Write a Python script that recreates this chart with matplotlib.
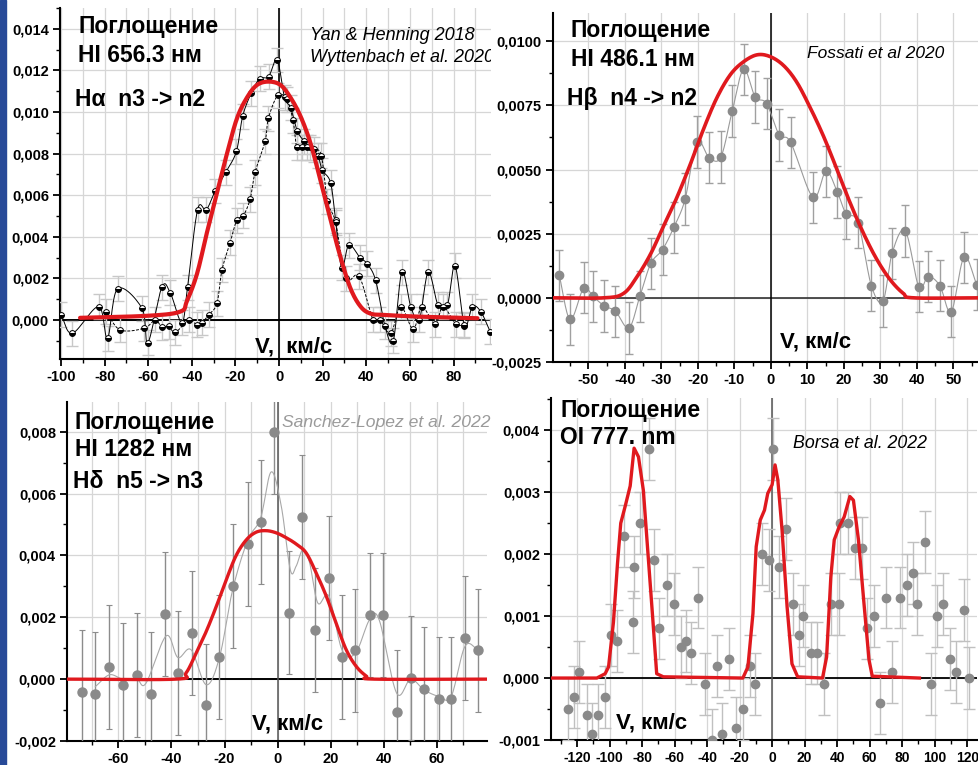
import numpy as np
import matplotlib
matplotlib.use("Agg")
import matplotlib.pyplot as plt
from matplotlib.patches import Rectangle
from matplotlib.ticker import MultipleLocator, FuncFormatter

plt.rcParams['font.family'] = ['Liberation Sans', 'DejaVu Sans']
plt.rcParams['font.weight'] = 'bold'

RED = '#e0191e'
W, H = 979, 765

# ---------------- H-alpha 656.3 nm ----------------
ha_a_v = [-100, -94.8, -82.8, -78.7, -74.1, -62.9, -60.2, -53.8, -49.9, -44.6, -42.0,
          -37.4, -33.4, -29.3, -24.5, -19.6, -16.7, -12.8, -8.9, -4.8, -0.9,
          2.5, 5.3, 8.3, 11.4, 14.0, 17.8, 19.8, 23.6, 25.9, 28.7, 32.0, 37.1, 40.4, 44.3,
          48.6, 52.4, 56.3, 60.4, 64.3, 68.4, 72.9, 77.2, 80.7, 85.0, 88.7, 92.5, 96.8]
ha_a_y = [0.00024, -0.00064, 0.00064, -0.00088, 0.0015, 0.00056, -0.0011, 0.00157, 0.0013, -0.00013, 0.00157,
          0.0053, 0.0053, 0.0062, 0.0071, 0.0081, 0.0098, 0.0109, 0.0116, 0.0117, 0.0125,
          0.0107, 0.0102, 0.0091, 0.0086, 0.0083, 0.0079, 0.0072, 0.0066, 0.0048, 0.0025, 0.0036, 0.0030, 0.0027, 0.0019,
          -0.0003, -0.0010, 0.0023, 0.00064, 0.0, 0.0023, 0.00072, 0.00072, 0.0026, -0.00027, 0.00064, 0.0004, -0.00056]
ha_b_v = [-79.3, -72.9, -61.9, -56.8, -53.8, -50.7, -47.6, -41.5, -37.7, -35.4, -32.3,
          -28.5, -26.2, -22.5, -19.4, -16.5, -13.3, -11.0, -6.4, -4.9, -0.6,
          3.5, 6.4, 8.1, 10.4, 12.7, 16.0, 19.4, 22.2, 25.9, 30.7, 36.7, 43.1, 46.3,
          51.2, 55.8, 61.5, 65.5, 71.6, 75.2, 81.0, 84.8]
ha_b_y = [0.0004, -0.00048, -0.0004, 0.0, -0.00035, -0.0003, -0.0006, 0.0, -0.00024, -0.00013, 0.00024,
          0.0008, 0.0024, 0.0037, 0.0048, 0.0050, 0.0058, 0.0071, 0.0086, 0.0097, 0.0108,
          0.0106, 0.0096, 0.0083, 0.0083, 0.0083, 0.0082, 0.0079, 0.0057, 0.0047, 0.0020, 0.0021, 0.0, 0.0,
          -0.00064, 0.00064, -0.00045, 0.00063, -0.0002, 0.00064, -0.0002, -0.00024]
ha_err = 0.0006
ha_model_v = [-91.3, -60, -45.3, -42.3, -37.7, -33.1, -28.5, -23.9, -19.3, -14.7, -10.1, -4.8,
              0.6, 5.2, 9.8, 14.4, 19.0, 23.6, 28.2, 32.8, 37.4, 42.0, 48.1, 63.4, 91.0]
ha_model_y = [0.0001, 0.0002, 0.0004, 0.0009, 0.0022, 0.0042, 0.0061, 0.0080, 0.0097, 0.0107, 0.0113, 0.01146,
              0.0113, 0.0107, 0.0098, 0.0085, 0.0067, 0.0048, 0.0030, 0.0015, 0.00064, 0.0003, 0.00024, 0.00016, 0.00008]

# ---------------- H-beta 486.1 nm ----------------
hb_v = [-58.0, -55.0, -51.3, -48.8, -45.6, -42.6, -38.9, -35.9, -32.9, -29.7, -26.6, -23.5,
        -20.3, -16.9, -13.7, -10.6, -7.5, -4.3, -1.2, 2.3, 5.4, 11.5, 15.1, 18.2, 20.6,
        23.9, 27.5, 30.7, 33.2, 36.8, 40.5, 43.1, 46.3, 49.4, 52.9, 56.4]
hb_y = [0.00088, -0.00084, 0.00039, 0.00006, -0.00032, -0.00052, -0.00117, 0.00006, 0.00134, 0.00188, 0.00275, 0.00385,
        0.00607, 0.00546, 0.00549, 0.00728, 0.0089, 0.00783, 0.00757, 0.00634, 0.00606, 0.00392, 0.00493, 0.00412, 0.00328,
        0.00293, 0.00048, -0.00012, 0.00174, 0.00261, 0.00043, 0.00083, 0.00047, -0.00054, 0.00158, 0.00052]
hb_err = 0.001
hb_model_v = [-59.5, -45.8, -40.4, -36.7, -33.0, -29.4, -25.8, -22.1, -18.4, -14.8, -11.1, -7.5, -3.8,
              -0.2, 3.5, 7.1, 10.8, 14.4, 18.1, 21.7, 25.4, 29.0, 32.7, 36.3, 39.1, 57.0]
hb_model_y = [0.0, 0.0, 0.00017, 0.00082, 0.0017, 0.0028, 0.0039, 0.0052, 0.0066, 0.0078, 0.0087, 0.0092, 0.00947,
              0.0094, 0.00905, 0.0084, 0.0074, 0.0063, 0.0050, 0.0037, 0.0025, 0.0015, 0.0007, 0.00017, 0.0, 0.0]

# ---------------- H-delta 1282 nm ----------------
hd_v = [-73.7, -68.7, -63.4, -58.2, -53.1, -47.8, -42.4, -37.4, -32.3, -27.0, -21.9, -16.9, -11.2,
        -6.4, -1.3, 4.3, 9.4, 14.3, 19.4, 24.3, 29.4, 34.7, 39.9, 44.9, 50.2, 55.3, 60.9, 65.5, 70.7, 75.7]
hd_y = [-0.00041, -0.00049, 0.00039, -0.0002, 0.00013, -0.00049, 0.0021, 0.0002, 0.0015, -0.00085, 0.00072, 0.0030, 0.00436,
        0.00508, 0.0080, 0.00215, 0.00524, 0.00158, 0.00326, 0.00072, 0.00093, 0.00208, 0.00208, -0.00106, 0.00004,
        -0.00033, -0.00065, -0.00065, 0.00133, 0.00093]
hd_err = 0.002
hd_fit_v = [-68.7, -63.4, -58.4, -53.1, -49.6, -42.0, -37.6, -32.6, -26.9, -21.9, -16.9, -11.2, -6.4, -2.4,
            1.4, 4.8, 7.0, 9.6, 12.1, 15.2, 19.4, 24.3, 29.4, 34.7, 38.4, 44.9, 50.2, 55.3, 60.9, 65.5, 70.7, 75.7]
hd_fit_y = [-0.00024, 0.00014, 0.0, 0.0, -0.00013, 0.0014, 0.0007, 0.00095, -0.00018, 0.0007, 0.0029, 0.0045, 0.0052, 0.0067,
            0.0056, 0.00354, 0.00365, 0.0042, 0.00376, 0.00246, 0.00268, 0.00095, 0.00084, 0.00192, 0.0019, -0.00045,
            0.0, -0.00035, -0.00056, -0.00056, 0.00106, 0.00095]
hd_model_v = [-79.0, -38.2, -34.5, -30.7, -26.9, -23.1, -19.4, -15.6, -11.8, -8.1, -4.3, -0.5, 3.3, 7.0, 10.8,
              14.6, 18.4, 22.1, 25.9, 29.7, 33.5, 36.6, 79.0]
hd_model_y = [0.0, 0.0, 0.0002, 0.00084, 0.00154, 0.00235, 0.0032, 0.0040, 0.0045, 0.00475, 0.0048, 0.00473, 0.00457,
              0.00437, 0.00408, 0.00343, 0.00268, 0.00181, 0.00095, 0.00041, 0.0001, 0.0, 0.0]

# ---------------- OI 777 nm ----------------
oi_v = [-125.7, -122.0, -119.0, -114.0, -110.8, -107.0, -103.0, -99.0, -95.5, -90.8, -85.7, -84.7, -81.2,
        -75.7, -72.4, -69.4, -64.5, -60.6, -55.9, -52.9, -50.0, -45.3, -41.0, -36.9, -33.9, -31.0, -26.5,
        -22.0, -18.0, -13.9, -10.8, -6.1, -2.0, 0.4, 4.5, 8.6, 12.7, 16.3, 19.2, 23.9, 27.3, 31.6, 36.1,
        41.2, 41.6, 46.9, 50.8, 55.1, 58.6, 62.7, 66.1, 69.8, 73.9, 78.6, 82.7, 86.5, 88.8, 93.9, 98.0,
        101.6, 105.1, 109.6, 113.3, 117.8, 120.8]
oi_y = [-0.0005, -0.0003, 0.0001, -0.0006, -0.0009, -0.0006, -0.0003, 0.0007, 0.0006, 0.0023, 0.0009, 0.0018, 0.0025,
        0.0037, 0.0019, 0.0008, 0.0015, 0.0012, 0.0005, 0.0006, 0.0004, 0.0013, -0.0001, -0.001, 0.0002, -0.0009, 0.0003,
        -0.0008, -0.0005, 0.0002, -0.0001, 0.0020, 0.0019, 0.0037, 0.0018, 0.0024, 0.0012, 0.0007, 0.0010, 0.0004, 0.0004,
        -0.0001, 0.0012, 0.0012, 0.0025, 0.0025, 0.0021, 0.0021, 0.0008, 0.0010, -0.0004, 0.0013, 0.0001, 0.0013, 0.0015,
        0.0017, 0.0012, 0.0022, -0.0001, 0.0010, 0.0012, 0.0003, 0.0001, 0.0011, 0.0]
oi_err = 0.0005
oi_model_v = [-135.3, -107.8, -102.7, -100.6, -97.6, -95.1, -93.1, -90.4, -87.3, -84.9, -82.2, -79.2, -76.5,
              -73.5, -71.0, -66.9, -18.0, -14.9, -11.8, -9.8, -7.3, -4.7, -2.7, 0.0, 1.8, 3.5, 6.1, 9.2, 12.2,
              15.7, 31.0, 33.5, 36.1, 38.2, 41.2, 44.3, 47.8, 50.0, 53.1, 56.5, 59.6, 61.6, 90.6]
oi_model_y = [0.0, 0.0, 0.00007, 0.00018, 0.0009, 0.00185, 0.0025, 0.00277, 0.0031, 0.00371, 0.00357, 0.00303, 0.00206,
              0.00099, 0.00007, 0.00002, 0.0, 0.00018, 0.00104, 0.00212, 0.00255, 0.00271, 0.00298, 0.00312, 0.00344,
              0.0032, 0.00239, 0.00115, 0.00023, 0.00002, 0.0, 0.00034, 0.00163, 0.00223, 0.00244, 0.0026, 0.00293,
              0.00287, 0.00223, 0.0012, 0.00029, 0.00003, 0.0]


def smooth(x, y, n=14):
    """Catmull-Rom curve through the points, used only to draw smooth lines."""
    x = np.asarray(x, float)
    y = np.asarray(y, float)
    px = np.concatenate([[2 * x[0] - x[1]], x, [2 * x[-1] - x[-2]]])
    py = np.concatenate([[2 * y[0] - y[1]], y, [2 * y[-1] - y[-2]]])
    t = np.linspace(0, 1, n, endpoint=False)[:, None]

    def cr(p):
        p0, p1, p2, p3 = p[:-3], p[1:-2], p[2:-1], p[3:]
        return 0.5 * (2 * p1 + (-p0 + p2) * t + (2 * p0 - 5 * p1 + 4 * p2 - p3) * t ** 2
                      + (-p0 + 3 * p1 - 3 * p2 + p3) * t ** 3)

    sx = np.append(cr(px).T.ravel(), x[-1])
    sy = np.append(cr(py).T.ravel(), y[-1])
    return sx, sy


def comma_fmt(decimals):
    return FuncFormatter(lambda v, _: f"{v:.{decimals}f}".replace('.', ','))


def make_axes(rect_px, xlim, ylim, xmaj, xmin, ymaj, ymin, ydec, xgrid_minor, xlabelsize=10.5):
    l, t, r, b = rect_px
    ax = fig.add_axes([l / W, 1 - b / H, (r - l) / W, (b - t) / H])
    ax.set_xlim(*xlim)
    ax.set_ylim(*ylim)
    for s in ('top', 'right'):
        ax.spines[s].set_visible(False)
    for s in ('left', 'bottom'):
        ax.spines[s].set_linewidth(1.5)
    ax.xaxis.set_major_locator(MultipleLocator(xmaj))
    ax.xaxis.set_minor_locator(MultipleLocator(xmin))
    ax.yaxis.set_major_locator(MultipleLocator(ymaj))
    ax.yaxis.set_minor_locator(MultipleLocator(ymin))
    ax.yaxis.set_major_formatter(comma_fmt(ydec))
    ax.xaxis.set_major_formatter(FuncFormatter(lambda v, _: f"{v:.0f}"))
    ax.tick_params(which='major', direction='out', length=5, width=1.3, labelsize=10.5, pad=3)
    ax.tick_params(axis='x', which='major', labelsize=xlabelsize)
    ax.tick_params(which='minor', direction='out', length=3, width=1.0)
    for lab in ax.get_xticklabels() + ax.get_yticklabels():
        lab.set_fontweight('bold')
    ax.xaxis.grid(True, which='both' if xgrid_minor else 'major', color='#d6d6d6', lw=0.9)
    ax.yaxis.grid(True, which='major', color='#d6d6d6', lw=0.9)
    ax.set_axisbelow(True)
    return ax


def label(x, y, s, size, **kw):
    return fig.text(x / W, 1 - y / H, s, fontsize=size, va='center', ha='left', **kw)


fig = plt.figure(figsize=(W / 100, H / 100), dpi=100)
fig.patches.append(Rectangle((0, 0), 6 / W, 1, transform=fig.transFigure, color='#284a98', zorder=0))

# Panel: H-alpha
ax1 = make_axes((60, 8, 491, 359), (-100.5, 97.2), (-0.00188, 0.0150), 20, 10, 0.002, 0.001, 3, True)
ax1.axhline(0, color='black', lw=1.4, zorder=2)
ax1.axvline(0, color='black', lw=1.2, zorder=2)
for v, y, ls in ((ha_a_v, ha_a_y, '-'), (ha_b_v, ha_b_y, (0, (3, 1.5)))):
    ax1.errorbar(v, y, yerr=ha_err, fmt='none', ecolor='#c8c8c8', elinewidth=1.0, capsize=4, capthick=1.0, zorder=3)
    sx, sy = smooth(v, y)
    ax1.plot(sx, sy, color='black', lw=0.7, ls=ls, zorder=4)
    ax1.plot(v, y, ls='none', marker='o', ms=4.2, fillstyle='bottom', markerfacecolor='black',
             markerfacecoloralt='white', markeredgecolor='black', markeredgewidth=0.7, zorder=5)
sx, sy = smooth(ha_model_v, ha_model_y)
ax1.plot(sx, sy, color=RED, lw=3.0, zorder=6, solid_capstyle='round')

# Panel: H-beta
ax2 = make_axes((553, 13, 979, 362), (-59.7, 57.0), (-0.0025, 0.0111), 10, 5, 0.0025, 0.00125, 4, False)
ax2.axhline(0, color='#333333', lw=1.2, zorder=2)
ax2.axvline(0, color='black', lw=1.1, zorder=2)
ax2.errorbar(hb_v, hb_y, yerr=hb_err, fmt='none', ecolor='#a0a0a0', elinewidth=1.0, capsize=3, capthick=1.0, zorder=3)
sx, sy = smooth(hb_v, hb_y)
ax2.plot(sx, sy, color='#9a9a9a', lw=0.8, zorder=4)
ax2.plot(hb_v, hb_y, ls='none', marker='o', ms=6, color='#8a8a8a', zorder=5)
sx, sy = smooth(hb_model_v, hb_model_y)
ax2.plot(sx, sy, color=RED, lw=2.6, zorder=6)

# Panel: H-delta
ax3 = make_axes((67, 402, 487, 741), (-79.4, 79.0), (-0.002, 0.00896), 20, 10, 0.002, 0.001, 3, True)
ax3.axhline(0, color='black', lw=1.4, zorder=2)
ax3.axvline(0, color='#555555', lw=1.1, zorder=2)
ax3.errorbar(hd_v, hd_y, yerr=hd_err, fmt='none', ecolor='#8c8c8c', elinewidth=1.0, capsize=2.5, capthick=0.8, zorder=3)
sx, sy = smooth(hd_fit_v, hd_fit_y)
ax3.plot(sx, sy, color='#a8a8a8', lw=0.8, zorder=4)
ax3.plot(hd_v, hd_y, ls='none', marker='o', ms=6.5, color='#8a8a8a', zorder=5)
sx, sy = smooth(hd_model_v, hd_model_y)
ax3.plot(sx, sy, color=RED, lw=2.4, zorder=6)

# Panel: OI 777
ax4 = make_axes((551, 398, 977, 740), (-136.0, 126.0), (-0.001, 0.00452), 20, 10, 0.001, 0.0005, 3, False,
                xlabelsize=10)
ax4.axhline(0, color='black', lw=1.3, zorder=2)
ax4.axvline(0, color='#555555', lw=1.1, zorder=2)
ax4.errorbar(oi_v, oi_y, yerr=oi_err, fmt='none', ecolor='#c0c0c0', elinewidth=1.0, capsize=4, capthick=1.0, zorder=3)
ax4.plot(oi_v, oi_y, ls='none', marker='o', ms=6, color='#8a8a8a', zorder=5)
ax4.plot(oi_model_v, oi_model_y, color=RED, lw=2.4, zorder=6)

# Annotations
big = 16.5
label(78, 27, 'Поглощение', big, fontweight='bold')
label(78, 56, 'HI 656.3 нм', big, fontweight='bold')
label(75, 100, 'Hα  n3 -> n2', big, fontweight='bold')
label(310, 36, 'Yan & Henning 2018', 13, style='italic', fontweight='normal')
t = label(310, 58, 'Wyttenbach et al. 2020', 13, style='italic', fontweight='normal')
t.set_clip_box(ax1.bbox)
t.set_clip_on(True)
label(255, 347, 'V,  км/с', 16, fontweight='bold')

label(571, 30, 'Поглощение', big, fontweight='bold')
label(571, 60, 'HI 486.1 нм', big, fontweight='bold')
label(567, 98, 'Hβ  n4 -> n2', big, fontweight='bold')
label(807, 53, 'Fossati et al 2020', 12.5, style='italic', fontweight='normal')
label(780, 342, 'V, км/с', 16, fontweight='bold')

label(75, 422, 'Поглощение', big, fontweight='bold')
label(75, 450, 'HI 1282 нм', big, fontweight='bold')
label(73, 481, 'Hδ  n5 -> n3', big, fontweight='bold')
label(282, 422, 'Sanchez-Lopez et al. 2022', 12.6, style='italic', fontweight='normal', color='#9a9a9a')
label(252, 724, 'V, км/с', 16, fontweight='bold')

label(560, 411, 'Поглощение', big, fontweight='bold')
label(560, 438, 'OI 777. nm', big, fontweight='bold')
label(793, 443, 'Borsa et al. 2022', 12.8, style='italic', fontweight='normal')
label(616, 723, 'V, км/с', 16, fontweight='bold')

fig.savefig('out.png', dpi=100)
